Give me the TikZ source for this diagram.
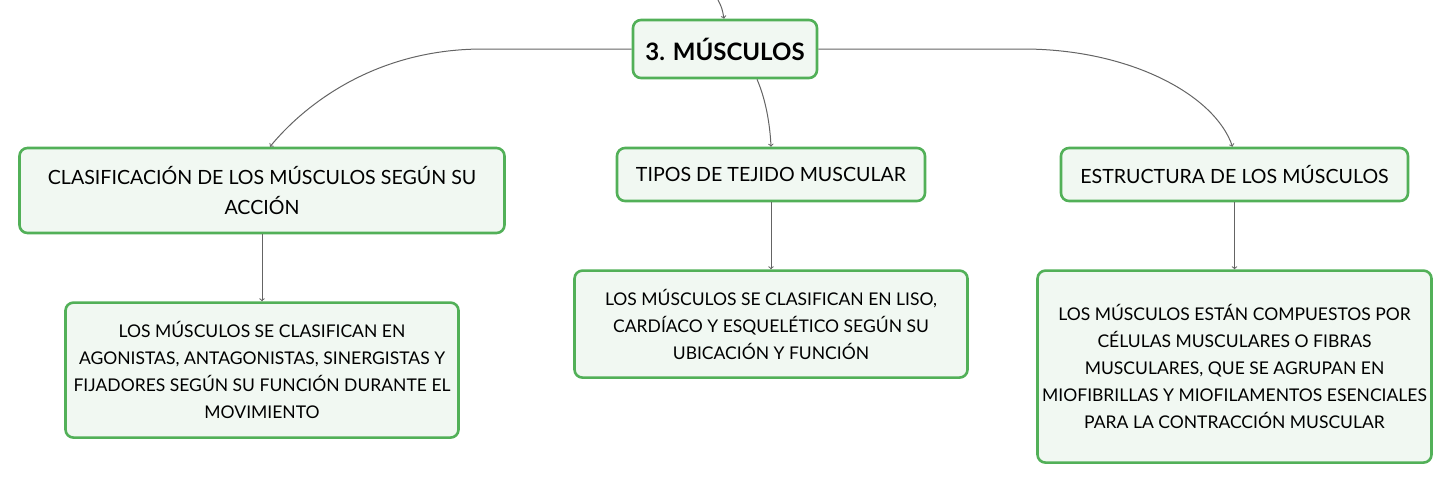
\documentclass[tikz,border=0pt]{standalone}
\usepackage{fontspec}
\setmainfont{Lato}
\usetikzlibrary{positioning}

\definecolor{boxgreen}{RGB}{82,176,88}
\definecolor{boxfill}{RGB}{241,248,242}
\definecolor{linkgray}{RGB}{100,100,100}

\begin{document}
\begin{tikzpicture}[x=1pt, y=-1pt,
    box/.style={draw=boxgreen, line width=2.6pt, fill=boxfill, rounded corners=8pt, align=center, inner sep=0pt},
    topic/.style={box, font=\fontsize{19.6}{30}\selectfont},
    detail/.style={box, font=\fontsize{17.5}{27}\selectfont},
    link/.style={draw=linkgray, line width=1pt, ->}]

    \useasboundingbox (0,0) rectangle (1451,483);

    \node[box, minimum width=184pt, minimum height=58pt, font=\fontsize{24}{28}\selectfont\bfseries] (root) at (725,49) {3. MÚSCULOS};
    \coordinate (parent) at (718,0);

    \node[topic, minimum width=485pt, minimum height=85pt] (clasif) at (262,190.5) {CLASIFICACIÓN DE LOS MÚSCULOS SEGÚN SU\\ACCIÓN};
    \node[topic, minimum width=308pt, minimum height=53pt] (tipos) at (771,174.5) {TIPOS DE TEJIDO MUSCULAR};
    \node[topic, minimum width=347pt, minimum height=53pt] (estruct) at (1234.5,174.5) {ESTRUCTURA DE LOS MÚSCULOS};

    \node[detail, minimum width=393pt, minimum height=135pt, below=67pt of clasif] (clasiftxt) {LOS MÚSCULOS SE CLASIFICAN EN\\AGONISTAS, ANTAGONISTAS, SINERGISTAS Y\\FIJADORES SEGÚN SU FUNCIÓN DURANTE EL\\MOVIMIENTO};
    \node[detail, minimum width=393pt, minimum height=107pt, below=67pt of tipos] (tipostxt) {LOS MÚSCULOS SE CLASIFICAN EN LISO,\\CARDÍACO Y ESQUELÉTICO SEGÚN SU\\UBICACIÓN Y FUNCIÓN};
    \node[detail, minimum width=394pt, minimum height=192pt, below=67pt of estruct] (estructtxt) {LOS MÚSCULOS ESTÁN COMPUESTOS POR\\CÉLULAS MUSCULARES O FIBRAS\\MUSCULARES, QUE SE AGRUPAN EN\\MIOFIBRILLAS Y MIOFILAMENTOS ESENCIALES\\PARA LA CONTRACCIÓN MUSCULAR};

    \draw[link] (parent) .. controls (722,8) .. ([xshift=-1pt]root.north);
    \draw[link] (root.west) -- (483,49) .. controls (370,49) and (300,110) .. ([xshift=8pt]clasif.north);
    \draw[link] ([xshift=32pt]root.south) .. controls (766,100) and (770,125) .. (tipos.north);
    \draw[link] (root.east) -- (1023,49) .. controls (1130,49) and (1215,95) .. ([xshift=-2pt]estruct.north);

    \draw[link] (clasif) -- (clasiftxt);
    \draw[link] (tipos) -- (tipostxt);
    \draw[link] (estruct) -- (estructtxt);

\end{tikzpicture}
\end{document}
